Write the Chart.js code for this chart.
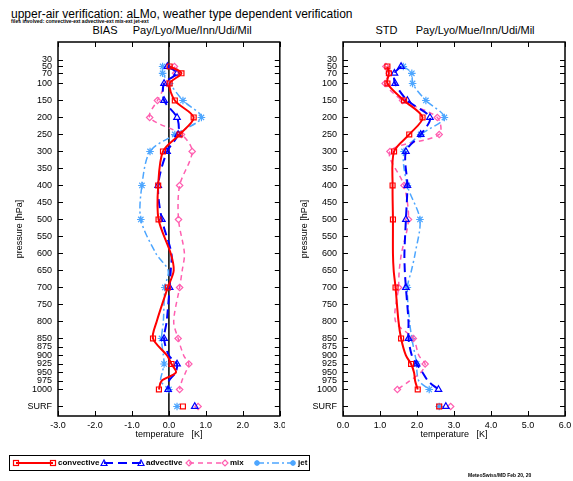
<!DOCTYPE html>
<html><head><meta charset="utf-8">
<script src="https://cdn.jsdelivr.net/npm/chart.js@4/dist/chart.umd.min.js"></script>
<style>
html,body{margin:0;padding:0;background:#fff;}
body{width:573px;height:481px;position:relative;overflow:hidden;font-family:"Liberation Sans",Arial,sans-serif;color:#000;}
.abs{position:absolute;white-space:nowrap;line-height:1;}
.ptitle{position:absolute;top:25px;width:300px;text-align:center;font-size:11px;white-space:pre;line-height:1;}
#c1{position:absolute;left:0;top:0;}
#c2{position:absolute;left:285px;top:0;}
.lg{position:absolute;top:459px;font-size:8px;font-weight:bold;line-height:1;}
</style></head><body>
<div class="abs" style="left:11px;top:8px;font-size:12px;">upper-air verification: aLMo, weather type dependent verification</div>
<div class="abs" style="left:11px;top:19px;font-size:5px;font-weight:bold;">files involved: convective-ext advective-ext mix-ext jet-ext</div>
<div class="ptitle" style="left:22px;">BIAS     Pay/Lyo/Mue/Inn/Udi/Mil</div>
<div class="ptitle" style="left:305px;">STD      Pay/Lyo/Mue/Inn/Udi/Mil</div>
<canvas id="c1" width="285" height="481"></canvas>
<canvas id="c2" width="288" height="481"></canvas>
<div class="abs" style="left:9px;top:455px;width:299px;height:14px;border:1.5px solid #000;"></div>
<svg class="abs" style="left:0;top:450px;" width="320" height="25">
  <g fill="none">
    <line x1="16" y1="13" x2="53" y2="13" stroke="#ff0000" stroke-width="2"/>
    <rect x="13.5" y="10.5" width="5" height="5" stroke="#ff0000" stroke-width="1.2"/>
    <rect x="50.5" y="10.5" width="5" height="5" stroke="#ff0000" stroke-width="1.2"/>
    <line x1="104" y1="13" x2="141" y2="13" stroke="#0000ff" stroke-width="2" stroke-dasharray="9,5"/>
    <path d="M101,15.5 L104,10 L107,15.5 Z" stroke="#0000ff" stroke-width="1.2"/>
    <path d="M138,15.5 L141,10 L144,15.5 Z" stroke="#0000ff" stroke-width="1.2"/>
    <line x1="189" y1="13" x2="225" y2="13" stroke="#ff5fb0" stroke-width="1.5" stroke-dasharray="5,4"/>
    <path d="M189,10 L192,13 L189,16 L186,13 Z" stroke="#ff5fb0" stroke-width="1.2"/>
    <path d="M225,10 L228,13 L225,16 L222,13 Z" stroke="#ff5fb0" stroke-width="1.2"/>
    <line x1="257" y1="13" x2="293" y2="13" stroke="#4da6ff" stroke-width="1.5" stroke-dasharray="7,3,2,3"/>
    <path d="M254,13 L260,13 M257,10 L257,16 M255,11 L259,15 M259,11 L255,15" stroke="#4da6ff" stroke-width="1.6"/>
    <path d="M290,13 L296,13 M293,10 L293,16 M291,11 L295,15 M295,11 L291,15" stroke="#4da6ff" stroke-width="1.6"/>
  </g>
</svg>
<div class="lg" style="left:58px;">convective</div>
<div class="lg" style="left:146px;">advective</div>
<div class="lg" style="left:230px;">mix</div>
<div class="lg" style="left:298px;">jet</div>
<div class="abs" style="left:468px;top:473px;font-size:5px;font-weight:bold;">MeteoSwiss/MD Feb 20, 20</div>
<script>
// ---- data ----
const levels = [50,70,100,150,200,250,300,400,500,600,650,700,800,850,900,925,950,975,1000];
const markerLevels = [50,70,100,150,200,250,300,400,500,700,850,925,1000];
const yTickValues = [30,50,70,100,150,200,250,300,350,400,450,500,550,600,650,700,750,800,850,875,900,925,950,975,1000,1050];
const yTickLabels = ['30','50','70','100','150','200','250','300','350','400','450','500','550','600','650','700','750','800','850','875','900','925','950','975','1000','SURF'];
const surfLevel = 1050;

const biasConvective = [0.02,0.34,0.02,0.16,0.67,0.29,-0.16,-0.29,-0.28,0.05,0.13,-0.03,-0.33,-0.43,-0.05,0.07,0.19,-0.2,-0.27];
const biasAdvective  = [-0.04,0.22,-0.13,-0.13,0.22,0.25,-0.05,-0.29,-0.19,0.07,0.05,0.02,-0.06,-0.13,0.0,0.22,0.18,0.0,-0.02];
const biasMix        = [0.15,0.18,-0.05,-0.31,-0.52,0.34,0.63,0.29,0.26,0.42,0.36,0.29,0.13,0.25,0.4,0.54,0.45,0.35,0.29];
const biasJet        = [-0.17,-0.17,0.02,0.38,0.88,0.16,-0.51,-0.73,-0.76,-0.35,-0.02,-0.11,-0.15,-0.2,-0.15,-0.13,-0.18,-0.22,0.0];
const biasSurf = {convective:0.38, advective:0.7, mix:0.79, jet:0.22};

const stdConvective = [1.2,1.24,1.2,1.65,2.15,1.79,1.38,1.34,1.35,1.35,1.37,1.42,1.5,1.57,1.7,1.84,1.92,1.95,2.02];
const stdAdvective  = [1.57,1.39,1.41,1.74,2.35,2.1,1.7,1.74,1.7,1.66,1.67,1.7,1.77,1.77,1.86,1.99,2.15,2.3,2.58];
const stdMix        = [1.16,1.25,1.14,1.61,2.55,2.6,1.27,1.65,1.77,1.58,1.52,1.5,1.42,1.9,2.05,2.22,2.1,1.8,1.47];
const stdJet        = [1.63,1.86,1.88,2.24,2.74,2.1,1.65,1.74,2.08,1.95,1.85,1.74,1.8,1.86,1.95,1.99,2.0,2.05,2.33];
const stdSurf = {convective:2.6, advective:2.78, mix:2.91, jet:2.6};

// ---- styles ----
const styles = {
  convective:{color:'#ff0000', width:2, dash:[], point:'rect', r:3.5, fill:'rgba(0,0,0,0)'},
  advective:{color:'#0000ff', width:2, dash:[9,5], point:'triangle', r:3.8, fill:'rgba(0,0,0,0)'},
  mix:{color:'#ff5fb0', width:1.5, dash:[5,4], point:'rectRot', r:3.2, fill:'rgba(0,0,0,0)'},
  jet:{color:'#4da6ff', width:1.5, dash:[7,3,2,3], point:'star', r:3.8, fill:'#4da6ff'}
};

function makeDatasets(series, surf){
  const out = [];
  Object.keys(series).forEach(k=>{
    const s = styles[k];
    out.push({
      data: levels.map((p,i)=>({x:series[k][i], y:p})),
      borderColor:s.color, borderWidth:s.width, borderDash:s.dash, tension:0.3,
      pointStyle:s.point, pointBorderColor:s.color, pointBackgroundColor:s.fill,
      pointBorderWidth:1.2,
      pointRadius:(c)=> (c.raw && markerLevels.includes(c.raw.y)) ? s.r : 0,
      fill:false
    });
  });
  Object.keys(series).forEach(k=>{
    const s = styles[k];
    out.push({
      data:[{x:surf[k], y:surfLevel}], showLine:false,
      borderColor:s.color, pointStyle:s.point, pointBorderColor:s.color,
      pointBackgroundColor:s.fill, pointBorderWidth:1.2, pointRadius:s.r
    });
  });
  return out;
}

const frame = {
  id:'frame',
  beforeDatasetsDraw(chart, args, opts){
    if(opts.zero){
      const {ctx, chartArea:a, scales:{x}} = chart;
      const px = x.getPixelForValue(0);
      ctx.save(); ctx.strokeStyle='#000'; ctx.lineWidth=1.5;
      ctx.beginPath(); ctx.moveTo(px,a.top); ctx.lineTo(px,a.bottom); ctx.stroke(); ctx.restore();
    }
  },
  afterDatasetsDraw(chart){
    const {ctx, chartArea:a, scales:{x,y}} = chart;
    ctx.save(); ctx.strokeStyle='#000'; ctx.lineWidth=1;
    ctx.beginPath();
    y.ticks.forEach(t=>{
      const py = Math.round(y.getPixelForValue(t.value))+0.5;
      ctx.moveTo(a.left,py); ctx.lineTo(a.left+5,py);
      ctx.moveTo(a.right,py); ctx.lineTo(a.right-5,py);
    });
    x.ticks.forEach(t=>{
      const px = Math.round(x.getPixelForValue(t.value))+0.5;
      ctx.moveTo(px,a.top); ctx.lineTo(px,a.top+5);
      ctx.moveTo(px,a.bottom); ctx.lineTo(px,a.bottom-5);
    });
    ctx.stroke();
    ctx.lineWidth=1.5;
    ctx.strokeRect(a.left,a.top,a.right-a.left,a.bottom-a.top);
    ctx.restore();
  }
};

const tickFont = {family:'"Liberation Sans", Arial, sans-serif', size:9};

function makeChart(id, series, surf, xmin, xmax, padRight, zero){
  return new Chart(document.getElementById(id), {
    type:'line',
    data:{datasets:makeDatasets(series, surf)},
    options:{
      responsive:false, animation:false, events:[],
      layout:{padding:{left:0,right:padRight,top:42,bottom:40}},
      plugins:{legend:{display:false}, tooltip:{enabled:false}, frame:{zero:zero}},
      scales:{
        x:{type:'linear', min:xmin, max:xmax,
           grid:{display:false, drawTicks:false}, border:{display:false},
           ticks:{stepSize:1, padding:4, color:'#000', font:tickFont, maxRotation:0,
                  callback:(v)=>Number(v).toFixed(1)},
           title:{display:true, text:'temperature   [K]', color:'#000', font:tickFont, padding:{top:0,bottom:1}},
           afterFit:(s)=>{s.height=25; s.paddingLeft=0; s.paddingRight=0;}
        },
        y:{type:'linear', reverse:true, min:-22, max:1078,
           grid:{display:false, drawTicks:false}, border:{display:false},
           afterBuildTicks:(s)=>{s.ticks = yTickValues.map(v=>({value:v}));},
           ticks:{autoSkip:false, padding:6, color:'#000', font:tickFont,
                  callback:(v,i)=>yTickLabels[i]},
           title:{display:true, text:'pressure [hPa]', color:'#000', font:tickFont, padding:{top:14,bottom:0}},
           afterFit:(s)=>{s.width=58; s.paddingTop=0; s.paddingBottom=0;}
        }
      }
    },
    plugins:[frame]
  });
}

makeChart('c1', {convective:biasConvective, advective:biasAdvective, mix:biasMix, jet:biasJet}, biasSurf, -3, 3, 3, true);
makeChart('c2', {convective:stdConvective, advective:stdAdvective, mix:stdMix, jet:stdJet}, stdSurf, 0, 6, 8, false);
</script>
</body></html>
